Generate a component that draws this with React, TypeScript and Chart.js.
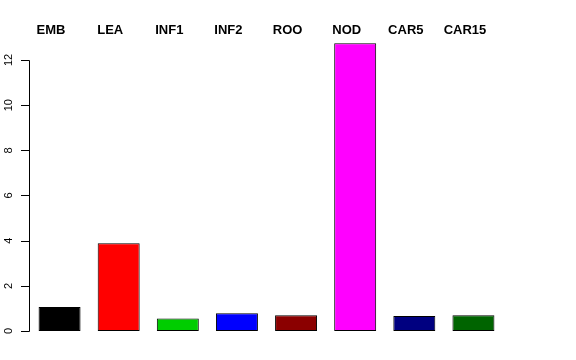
import React, { useEffect, useRef } from "react";
import { Chart, registerables } from "chart.js";

Chart.register(...registerables);

const categories = ["EMB", "LEA", "INF1", "INF2", "ROO", "NOD", "CAR5", "CAR15"];
const values = [1.06, 3.88, 0.55, 0.79, 0.7, 12.74, 0.66, 0.7];
const barColors = ["#000000", "#FF0000", "#00CD00", "#0000FF", "#8B0000", "#FF00FF", "#000080", "#006400"];
const yTicks = [0, 2, 4, 6, 8, 10, 12];

const rAxisPlugin = {
  id: "rAxis",
  afterDraw(chart: any) {
    const ctx = chart.ctx;
    const y = chart.scales.y;
    const x = chart.scales.x;
    ctx.save();
    ctx.strokeStyle = "#000000";
    ctx.lineWidth = 1;
    const ax = 29.5;
    const y0 = y.getPixelForValue(yTicks[0]);
    const y1 = y.getPixelForValue(yTicks[yTicks.length - 1]);
    ctx.beginPath();
    ctx.moveTo(ax, Math.round(y0) + 0.5);
    ctx.lineTo(ax, Math.round(y1) + 0.5);
    for (const t of yTicks) {
      const py = Math.round(y.getPixelForValue(t)) + 0.5;
      ctx.moveTo(21, py);
      ctx.lineTo(ax, py);
    }
    ctx.stroke();
    ctx.fillStyle = "#000000";
    ctx.font = "11px 'Liberation Sans', Arial, sans-serif";
    ctx.textAlign = "center";
    ctx.textBaseline = "alphabetic";
    for (const t of yTicks) {
      const py = y.getPixelForValue(t);
      ctx.save();
      ctx.translate(11.5, py);
      ctx.rotate(-Math.PI / 2);
      ctx.fillText(String(t), 0, 0);
      ctx.restore();
    }
    ctx.font = "bold 13px 'Liberation Sans', Arial, sans-serif";
    categories.forEach((c, i) => {
      const px = x.getPixelForValue(i) - 8.5;
      ctx.fillText(c, px, 34);
    });
    ctx.restore();
  },
};

export default function App() {
  const ref = useRef<HTMLCanvasElement | null>(null);
  useEffect(() => {
    if (!ref.current) return;
    const chart = new Chart(ref.current, {
      type: "bar",
      data: {
        labels: categories,
        datasets: [
          {
            data: values,
            backgroundColor: barColors,
            borderColor: "#000000",
            borderWidth: 1,
            borderSkipped: false,
            categoryPercentage: 1,
            barPercentage: 0.71,
          },
        ],
      },
      options: {
        animation: false,
        responsive: false,
        maintainAspectRatio: false,
        layout: { padding: { left: 30, right: 73, top: 37.4, bottom: 29 } },
        plugins: { legend: { display: false }, tooltip: { enabled: false } },
        scales: {
          x: { display: false },
          y: { display: false, min: 0, max: 13 },
        },
      },
      plugins: [rAxisPlugin],
    });
    return () => chart.destroy();
  }, []);
  return (
    <div style={{ position: "fixed", left: 0, top: 0, width: 576, height: 360, background: "#fff" }}>
      <canvas ref={ref} width={576} height={360} style={{ width: 576, height: 360 }} />
    </div>
  );
}
